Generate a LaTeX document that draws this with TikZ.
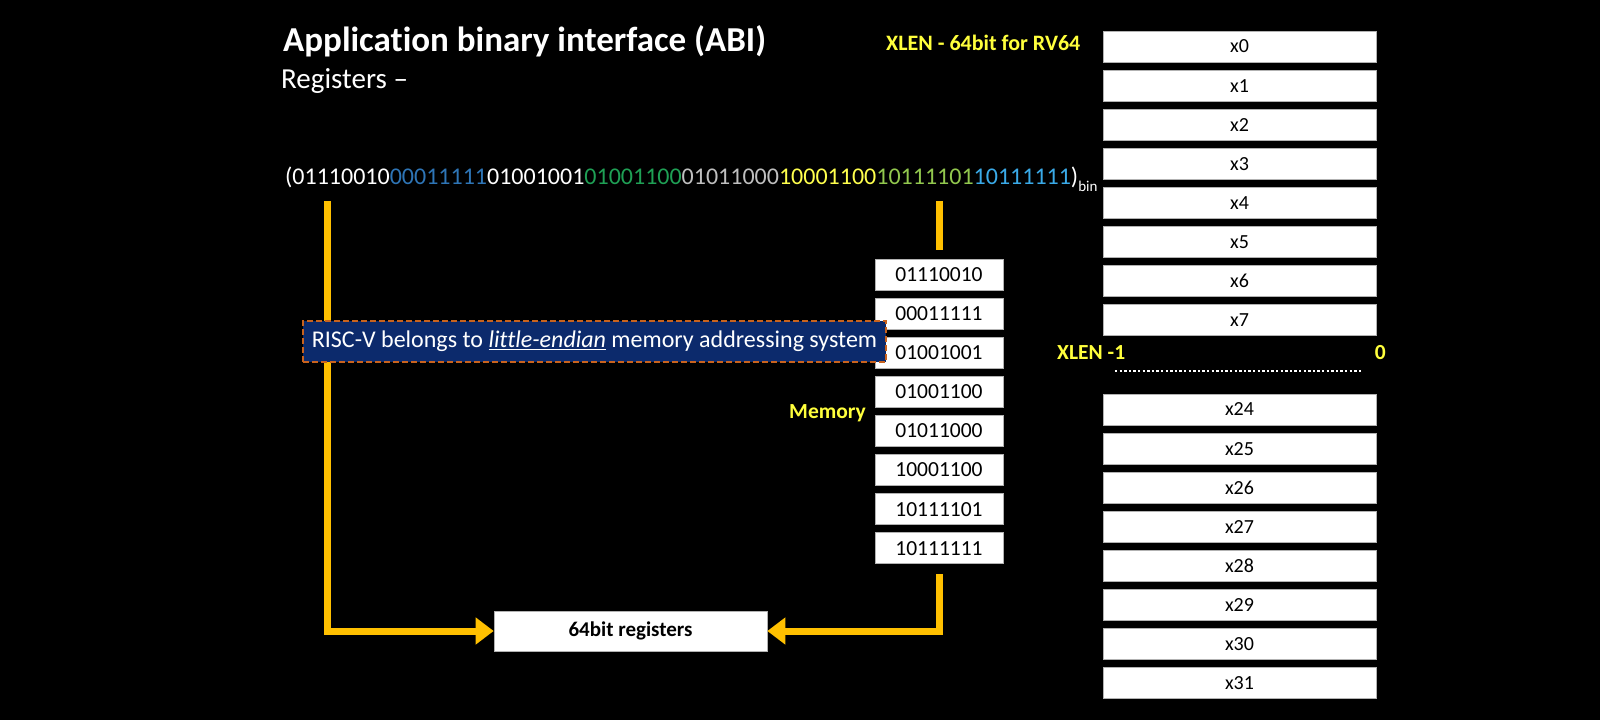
\documentclass[tikz,border=0pt]{standalone}
\usepackage{fontspec}
\setmainfont{Carlito}[Ligatures=NoCommon]
\usepackage{xcolor}
\usetikzlibrary{arrows.meta,positioning}

\definecolor{gold}{HTML}{FFC000}
\definecolor{hiyel}{HTML}{FFFF3C}
\definecolor{navy}{HTML}{0C2A6C}
\definecolor{rust}{HTML}{C8621E}
\definecolor{bblue}{HTML}{2E75B6}
\definecolor{bgreen}{HTML}{1FA055}
\definecolor{bgrey}{HTML}{BFBFBF}
\definecolor{byel}{HTML}{FFFF4D}
\definecolor{blime}{HTML}{92C84E}
\definecolor{bsky}{HTML}{3AAAE8}

\newcommand{\fs}[1]{\fontsize{#1}{#1}\selectfont}

\begin{document}
\begin{tikzpicture}[
  x=1pt, y=-1pt,
  every node/.style={text=white, inner sep=0pt},
  box/.style={draw=black!30, fill=white, text=black, line width=0.6pt, align=center},
  membox/.style={box, minimum width=128pt, minimum height=31pt, font=\fs{21.5}},
  regbox/.style={box, minimum width=273pt, minimum height=31pt, font=\fs{20}},
  hdr/.style={text=hiyel, font=\bfseries\fs{21.5}},
  goldline/.style={draw=gold, line width=7pt},
  arr/.style={goldline, -{Triangle[length=18pt,width=26pt]}},
]
  % background / frame
  \path[fill=black] (0,0) rectangle (1600,720);

  % headings
  \node[anchor=west, font=\bfseries\fs{35}] (title) at (283,41) {Application binary interface (ABI)};
  \node[anchor=west, font=\fs{29}] (sub) at (281,81) {Registers --};
  \node[hdr, font=\bfseries\fs{22}, anchor=west] (xlen) at (886,43) {XLEN - 64bit for RV64};

  % the 64 bit value
  \node[anchor=west, font=\fs{24}] (val) at (285,179)
    {(01110010\textcolor{bblue}{00011111}01001001\textcolor{bgreen}{01001100}\textcolor{bgrey}{01011000}\textcolor{byel}{10001100}\textcolor{blime}{10111101}\textcolor{bsky}{10111111})\raisebox{-7pt}{\fs{15}bin}};

  % memory bytes
  \foreach \b [count=\i] in {01110010,00011111,01001001,01001100,01011000,10001100,10111101,10111111}
    \node[membox] (m\i) at (939,{274.5+39.1*(\i-1)}) {\b};
  \node[hdr, anchor=east] (mem) at (866,413) {Memory};

  % register file
  \foreach \r [count=\i from 0] in {0,...,7}
    \node[regbox] (r\r) at (1239.5,{46.5+39.1*\i}) {x\r};
  \foreach \r [count=\i from 0] in {24,...,31}
    \node[regbox] (r\r) at (1239.5,{409.5+39.1*\i}) {x\r};
  \node[hdr, anchor=west] (msb) at (1057,353) {XLEN -1};
  \node[hdr, anchor=east] (lsb) at (1386,353) {0};
  \coordinate (dl) at (1115,371);
  \coordinate (dr) at (1363,371);
  \draw[white, line width=2.4pt, dash pattern=on 2.4pt off 2.2pt] (dl) -- (dr);

  % target
  \node[box, minimum width=273pt, minimum height=40pt, font=\bfseries\fs{21}] (regs) at (630.5,631) {64bit registers};

  % connectors
  \coordinate (bl) at (327,201);
  \coordinate (br) at (m1.north |- bl);
  \draw[arr] (bl) |- (regs.west);
  \draw[goldline, shorten >=9pt] (br) -- (m1.north);
  \draw[arr, shorten <=10pt] (m8.south) |- (regs.east);

  % note
  \node[fill=navy, draw=rust, line width=2.5pt, dash pattern=on 6pt off 3pt,
        minimum width=583pt, minimum height=41pt, font=\fs{24}] (note) at (594.5,341.5)
    {RISC-V belongs to \underline{\textit{little-endian}} memory addressing system};
\end{tikzpicture}
\end{document}
